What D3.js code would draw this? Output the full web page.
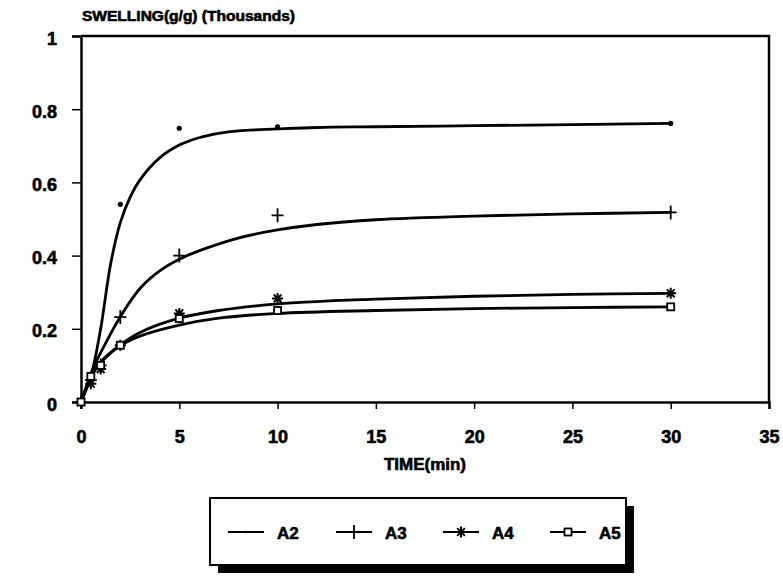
<!DOCTYPE html>
<html>
<head>
<meta charset="utf-8">
<script src="https://cdn.jsdelivr.net/npm/d3@7/dist/d3.min.js"></script>
<style>
  html, body { margin: 0; padding: 0; background: #fff; }
  svg { display: block; }
  text { font-family: "Liberation Sans", Arial, sans-serif; font-weight: bold; fill: #000; stroke: #000; stroke-width: 0.6px; }
</style>
</head>
<body>
<svg id="chart" width="783" height="578"></svg>
<script>
// Measured time points (min)
const times = [0, 0.5, 1, 2, 5, 10, 30];

// Measured swelling (g/g, thousands) per sample
const a2Values = [0, 0.07, 0.10, 0.54, 0.748, 0.752, 0.761];
const a3Values = [0, 0.06, 0.10, 0.232, 0.40, 0.51, 0.518];
const a4Values = [0, 0.05, 0.09, 0.155, 0.242, 0.283, 0.297];
const a5Values = [0, 0.07, 0.10, 0.155, 0.228, 0.25, 0.26];

// Fitted trend curves, as [time, swelling] samples
const a2Fit = [[0,0],[0.5,0.07],[1,0.2],[1.5,0.375],[2,0.49],[2.5,0.56],[3,0.607],[4,0.667],[5,0.702],[6,0.722],[7,0.734],[8,0.741],[10,0.746],[12,0.75],[15,0.752],[20,0.755],[25,0.758],[30,0.761]];
const a3Fit = [[0,0],[0.6,0.09],[1.1,0.145],[2,0.233],[3,0.31],[4,0.358],[5,0.39],[6,0.413],[8,0.448],[10,0.47],[12,0.485],[15,0.498],[20,0.508],[25,0.514],[30,0.518]];
const a4Fit = [[0,0],[0.6,0.078],[1.1,0.115],[2,0.156],[3,0.19],[5,0.229],[7,0.25],[10,0.268],[15,0.281],[20,0.289],[25,0.294],[30,0.297]];
const a5Fit = [[0,0],[0.6,0.078],[1.1,0.113],[2,0.154],[3,0.18],[5,0.21],[7,0.229],[10,0.242],[15,0.25],[20,0.255],[25,0.258],[30,0.26]];

const seriesNames = ["A2", "A3", "A4", "A5"];
const seriesMarkers = ["dot", "plus", "star", "square"];

const xTicks = [0, 5, 10, 15, 20, 25, 30, 35];
const yTicks = [0, 0.2, 0.4, 0.6, 0.8, 1];
const yTickLabels = ["0", "0.2", "0.4", "0.6", "0.8", "1"];

const yTitle = "SWELLING(g/g) (Thousands)";
const xTitle = "TIME(min)";

const series = [
  { name: seriesNames[0], marker: seriesMarkers[0], values: a2Values, fit: a2Fit },
  { name: seriesNames[1], marker: seriesMarkers[1], values: a3Values, fit: a3Fit },
  { name: seriesNames[2], marker: seriesMarkers[2], values: a4Values, fit: a4Fit },
  { name: seriesNames[3], marker: seriesMarkers[3], values: a5Values, fit: a5Fit }
];

const svg = d3.select("#chart");
const plot = { left: 81, right: 769, top: 36, bottom: 402 };

const x = d3.scaleLinear().domain([0, 35]).range([plot.left, plot.right]);
const y = d3.scaleLinear().domain([0, 1]).range([plot.bottom, plot.top]);

// Plot frame (top and right edges)
svg.append("path")
  .attr("d", `M${plot.left},${plot.top}H${plot.right}V${plot.bottom}`)
  .attr("fill", "none").attr("stroke", "#000").attr("stroke-width", 2.5);

// X axis
const xAxis = svg.append("g")
  .attr("transform", `translate(0,${plot.bottom})`)
  .call(d3.axisBottom(x).tickValues(xTicks).tickSize(7).tickFormat(d3.format("d")));
xAxis.select(".domain").attr("stroke-width", 2.5);
xAxis.selectAll(".tick line").attr("stroke-width", 1.5);
xAxis.selectAll("text").attr("font-size", 18).attr("font-family", "Liberation Sans, Arial, sans-serif")
  .attr("font-weight", "bold").attr("dy", "0.35em").attr("y", 35);

// Y axis
const yAxis = svg.append("g")
  .attr("transform", `translate(${plot.left},0)`)
  .call(d3.axisLeft(y).tickValues(yTicks).tickSize(9).tickPadding(15).tickFormat((d, i) => yTickLabels[i]));
yAxis.select(".domain").attr("stroke-width", 2.5);
yAxis.selectAll(".tick line").attr("stroke-width", 1.5);
yAxis.selectAll("text").attr("font-size", 18).attr("font-family", "Liberation Sans, Arial, sans-serif")
  .attr("font-weight", "bold").attr("dy", "0.45em");

// Axis titles
svg.append("text").attr("x", 82).attr("y", 21).attr("font-size", 14)
  .attr("textLength", 213).attr("lengthAdjust", "spacingAndGlyphs").text(yTitle);
svg.append("text").attr("x", 384).attr("y", 470).attr("font-size", 16)
  .attr("textLength", 82).attr("lengthAdjust", "spacingAndGlyphs").text(xTitle);

// Fitted curves
const line = d3.line().x(d => x(d[0])).y(d => y(d[1])).curve(d3.curveCatmullRom.alpha(0.5));
svg.append("g").selectAll("path").data(series).join("path")
  .attr("d", d => line(d.fit))
  .attr("fill", "none").attr("stroke", "#000").attr("stroke-width", 2.8)
  .attr("stroke-linejoin", "round").attr("stroke-linecap", "round");

// Marker drawing
function drawMarker(g, type, cx, cy) {
  if (type === "dot") {
    g.append("circle").attr("cx", cx).attr("cy", cy).attr("r", 2.6).attr("fill", "#000");
  } else if (type === "plus") {
    g.append("path").attr("d", `M${cx-6},${cy}H${cx+6}M${cx},${cy-7}V${cy+7}`)
      .attr("stroke", "#000").attr("stroke-width", 1.8).attr("fill", "none");
  } else if (type === "star") {
    const r = 5.5;
    let d = "";
    for (let k = 0; k < 4; k++) {
      const a = k * Math.PI / 4;
      d += `M${cx - r*Math.sin(a)},${cy - r*Math.cos(a)}L${cx + r*Math.sin(a)},${cy + r*Math.cos(a)}`;
    }
    g.append("path").attr("d", d).attr("stroke", "#000").attr("stroke-width", 2).attr("fill", "none");
  } else if (type === "square") {
    g.append("rect").attr("x", cx-3.5).attr("y", cy-3.5).attr("width", 7).attr("height", 7)
      .attr("fill", "#fff").attr("stroke", "#000").attr("stroke-width", 1.8);
  }
}

const markers = svg.append("g");
series.forEach(s => {
  s.values.forEach((v, i) => drawMarker(markers, s.marker, x(times[i]), y(v)));
});

// Legend with drop shadow
const legend = { x: 210, y: 498, w: 416, h: 67, shadow: 8 };
svg.append("rect")
  .attr("x", legend.x + legend.shadow).attr("y", legend.y + legend.shadow)
  .attr("width", legend.w).attr("height", legend.h).attr("fill", "#000");
svg.append("rect")
  .attr("x", legend.x).attr("y", legend.y).attr("width", legend.w).attr("height", legend.h)
  .attr("fill", "#fff").attr("stroke", "#000").attr("stroke-width", 2);

const legendItemX = [228, 336, 443, 550];
const legendY = 532;
series.forEach((s, i) => {
  const g = svg.append("g");
  const x0 = legendItemX[i];
  g.append("line").attr("x1", x0).attr("x2", x0 + 36).attr("y1", legendY).attr("y2", legendY)
    .attr("stroke", "#000").attr("stroke-width", 2.2);
  if (s.marker === "dot") {
    g.append("circle").attr("cx", x0 + 18).attr("cy", legendY).attr("r", 1.2).attr("fill", "#000");
  } else {
    drawMarker(g, s.marker, x0 + 18, legendY);
  }
  g.append("text").attr("x", x0 + 49).attr("y", legendY + 7).attr("font-size", 17)
    .text(s.name);
});
</script>
</body>
</html>
